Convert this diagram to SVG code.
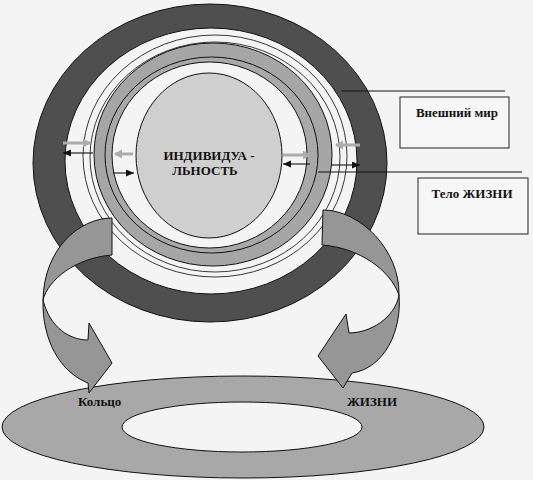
<svg xmlns="http://www.w3.org/2000/svg" width="533" height="480" viewBox="0 0 533 480">
<style>
.ln{stroke:#111;stroke-width:1;fill:none}
.thin{stroke:#222;stroke-width:0.9;fill:none}
.band{fill:#a6a6a6;stroke:#111;stroke-width:1}
.curl{fill:#969696;stroke:#111;stroke-width:1;stroke-linejoin:round}
.blk{stroke:#111;stroke-width:1.1;fill:none;marker-end:url(#hb)}
.gry{stroke:#acacac;stroke-width:3;fill:none;marker-end:url(#hg)}
.t{font-weight:bold;font-size:13px;fill:#111}
.box{fill:#f6f6f6;stroke:#222;stroke-width:1}
</style>
<defs>
<marker id="hb" markerUnits="userSpaceOnUse" markerWidth="9" markerHeight="8" refX="8" refY="3.5" orient="auto"><path d="M0,0 L8,3.5 L0,7 z" fill="#111"/></marker>
<marker id="hg" markerUnits="userSpaceOnUse" markerWidth="10" markerHeight="10" refX="7" refY="4.5" orient="auto"><path d="M0,0 L8,4.5 L0,9 z" fill="#acacac"/></marker>
</defs>
<rect width="533" height="480" fill="#f4f4f4"/>
<g id="rings">
<path d="M33,163 a177,159 0 1,0 354,0 a177,159 0 1,0 -354,0 Z M65,161 a146,133 0 1,0 292,0 a146,133 0 1,0 -292,0 Z" fill="#4f4f4f" fill-rule="evenodd" stroke="#111" stroke-width="1"/>
<ellipse cx="215" cy="156" rx="132" ry="121" class="thin"/>
<ellipse cx="215" cy="157" rx="125" ry="115" class="thin"/>
<ellipse cx="213" cy="154.5" rx="119" ry="111.5" class="band"/>
<ellipse cx="211.5" cy="155" rx="106.5" ry="98" fill="#a9a9a9" stroke="#111" stroke-width="1"/>
<ellipse cx="209.5" cy="155" rx="97.5" ry="93" fill="#f4f4f4" stroke="#111" stroke-width="1"/>
</g>
<g id="individuality">
<ellipse cx="209" cy="155.5" rx="73" ry="82.5" fill="#cfcfcf" stroke="#111" stroke-width="1"/>
<text class="t" font-family="Liberation Serif, Times New Roman, DejaVu Serif, serif" x="209" y="160" text-anchor="middle">ИНДИВИДУА -</text>
<text class="t" font-family="Liberation Serif, Times New Roman, DejaVu Serif, serif" x="205" y="175" text-anchor="middle">ЛЬНОСТЬ</text>
</g>
<g id="ring-of-life">
<ellipse cx="243" cy="427" rx="241" ry="51" fill="#a8a8a8" stroke="#111" stroke-width="1"/>
<ellipse cx="242" cy="427" rx="120" ry="25" fill="#f4f4f4" stroke="#111" stroke-width="1"/>
</g>
<g id="connectors">
<path class="curl" d="M112,218 C80,218 44,248 43,300 C42,340 60,372 88,383 L89,393 L112,363 L89,323 L88,340 C70,340 50,328 43,300 C48,280 75,258 112,255 Z"/>
<path class="curl" d="M323,210 C360,210 400,250 399,295 C402,330 385,368 352,373 L343,388 L318,356 L346,314 L349,333 C370,333 395,318 399,295 C390,270 360,248 322,245 Z"/>
<line class="gry" x1="63" y1="143" x2="90" y2="143"/>
<line class="blk" x1="93" y1="153" x2="63" y2="153"/>
<line class="gry" x1="133" y1="154" x2="115" y2="154"/>
<line class="blk" x1="113" y1="173" x2="134" y2="173"/>
<line class="gry" x1="283" y1="155" x2="310" y2="155"/>
<line class="blk" x1="310" y1="164" x2="283" y2="164"/>
<line class="gry" x1="360" y1="145" x2="336" y2="145"/>
<line class="blk" x1="331" y1="165" x2="360" y2="165"/>
<line class="ln" x1="342" y1="91" x2="505" y2="91"/>
<line class="ln" x1="318" y1="172" x2="522" y2="172"/>
</g>
<g id="outer-world">
<rect class="box" x="400" y="97" width="109" height="51"/>
<text class="t" font-family="Liberation Serif, Times New Roman, DejaVu Serif, serif" x="457" y="117" text-anchor="middle">Внешний мир</text>
</g>
<g id="life-body">
<rect class="box" x="418" y="178" width="110" height="56"/>
<text class="t" font-family="Liberation Serif, Times New Roman, DejaVu Serif, serif" x="472" y="198" text-anchor="middle">Тело ЖИЗНИ</text>
</g>
<g id="ring-labels">
<text class="t" font-family="Liberation Serif, Times New Roman, DejaVu Serif, serif" x="78" y="406">Кольцо</text>
<text class="t" font-family="Liberation Serif, Times New Roman, DejaVu Serif, serif" x="347" y="406">ЖИЗНИ</text>
</g>
</svg>
